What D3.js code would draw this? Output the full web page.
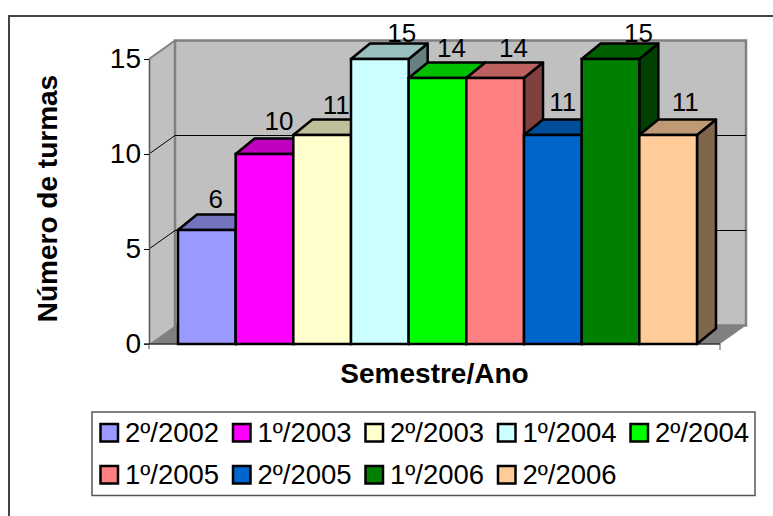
<!DOCTYPE html>
<html>
<head>
<meta charset="utf-8">
<script src="https://cdn.jsdelivr.net/npm/d3@7"></script>
<style>
  html, body { margin: 0; padding: 0; background: #fff; }
  text { font-family: "Liberation Sans", Arial, sans-serif; fill: #000; }
</style>
</head>
<body>
<script>
const semesters = ["2º/2002", "1º/2003", "2º/2003", "1º/2004", "2º/2004", "1º/2005", "2º/2005", "1º/2006", "2º/2006"];
const turmas = [6, 10, 11, 15, 14, 14, 11, 15, 11];
const yTicks = [0, 5, 10, 15];
const barColors = ["#9999ff", "#ff00ff", "#ffffcc", "#ccffff", "#00ff00", "#ff8080", "#0066cc", "#008000", "#ffcc99"];

const w = 773;
const h = 516;

// wall depth and bar depth of the fake 3d box
const wallDx = 26, wallDy = -18.5;
const barDx = 19, barDy = -15.5;

// the labels are not placed evenly over the bars, small shift per bar
const labelShiftX = [-10, -4.5, -5, 3, -5, -0.6, -9, 9, -2];
const labelShiftY = [-1, -3, 0, 4, 0, 0, -3, 4, -3];

const svg = d3.select("body").append("svg")
    .attr("width", w)
    .attr("height", h)
    .style("display", "block");

// outer frame, only top and left are inside the picture
svg.append("polyline")
    .attr("points", "9,516 9,16 773,16")
    .attr("fill", "none")
    .attr("stroke", "#444")
    .attr("stroke-width", 2);

const yScale = d3.scaleLinear().domain([0, 15]).range([344, 59]);
const xScale = d3.scaleBand().domain(semesters).range([178, 697]);
const frontLeft = 149, frontRight = 720;

const pts = (a) => a.map((p) => p.join(",")).join(" ");
const scaled = (c, k) => {
    const r = d3.rgb(c);
    return d3.rgb(r.r * k, r.g * k, r.b * k).formatHex();
};

// walls and floor
const wall = svg.append("g");
wall.append("polygon")
    .attr("points", pts([[frontLeft, yScale(0)], [frontLeft, yScale(15)], [frontLeft + wallDx, yScale(15) + wallDy], [frontLeft + wallDx, yScale(0) + wallDy]]))
    .attr("fill", "#c0c0c0");
wall.append("rect")
    .attr("x", frontLeft + wallDx).attr("y", yScale(15) + wallDy)
    .attr("width", frontRight - frontLeft).attr("height", yScale(0) - yScale(15))
    .attr("fill", "#c0c0c0")
    .attr("stroke", "#808080").attr("stroke-width", 2.5);
wall.append("polygon")
    .attr("points", pts([[frontLeft, yScale(0)], [frontRight, yScale(0)], [frontRight + wallDx, yScale(0) + wallDy], [frontLeft + wallDx, yScale(0) + wallDy]]))
    .attr("fill", "#808080");
wall.append("line")
    .attr("x1", frontLeft).attr("y1", yScale(15))
    .attr("x2", frontLeft + wallDx).attr("y2", yScale(15) + wallDy)
    .attr("stroke", "#808080").attr("stroke-width", 2);

// gridlines
yTicks.filter((t) => t > 0 && t < 15).forEach((t) => {
    svg.append("polyline")
        .attr("points", pts([[frontLeft, yScale(t)], [frontLeft + wallDx, yScale(t) + wallDy], [frontRight + wallDx, yScale(t) + wallDy]]))
        .attr("fill", "none")
        .attr("stroke", "#000")
        .attr("stroke-width", 1);
});

// axes
const yAxis = d3.axisLeft(yScale).tickValues(yTicks).tickSize(5).tickSizeOuter(0).tickPadding(3);
const yG = svg.append("g").attr("transform", "translate(" + frontLeft + ",0)").call(yAxis);
yG.selectAll("text").style("font-size", "28px").style("font-family", "Liberation Sans");
yG.select(".domain").attr("stroke", "#555").attr("stroke-width", 1.5);
svg.append("line")
    .attr("x1", frontLeft - 5).attr("x2", frontRight)
    .attr("y1", yScale(0)).attr("y2", yScale(0))
    .attr("stroke", "#333").attr("stroke-width", 1.5);
svg.append("line")
    .attr("x1", frontLeft).attr("x2", frontLeft)
    .attr("y1", yScale(0)).attr("y2", yScale(0) + 5)
    .attr("stroke", "#555");
svg.append("line")
    .attr("x1", frontRight).attr("x2", frontRight)
    .attr("y1", yScale(0)).attr("y2", yScale(0) + 6)
    .attr("stroke", "#555");

// bars, drawn left to right so each covers the side of the previous one
const bars = svg.selectAll("g.bar")
    .data(semesters)
    .enter()
    .append("g")
    .attr("class", "bar");

const bw = xScale.bandwidth();

bars.append("polygon") // side
    .attr("points", (d, i) => {
        const x = xScale(d) + bw, y = yScale(turmas[i]);
        return pts([[x, yScale(0)], [x, y], [x + barDx, y + barDy], [x + barDx, yScale(0) + barDy]]);
    })
    .attr("fill", (d, i) => scaled(barColors[i], 0.5))
    .attr("stroke", "#000").attr("stroke-width", 2.5).attr("stroke-linejoin", "round");

bars.append("polygon") // top
    .attr("points", (d, i) => {
        const x = xScale(d), y = yScale(turmas[i]);
        return pts([[x, y], [x + bw, y], [x + bw + barDx, y + barDy], [x + barDx, y + barDy]]);
    })
    .attr("fill", (d, i) => scaled(barColors[i], 0.75))
    .attr("stroke", "#000").attr("stroke-width", 2.5).attr("stroke-linejoin", "round");

bars.append("rect") // front
    .attr("x", (d) => xScale(d))
    .attr("y", (d, i) => yScale(turmas[i]))
    .attr("width", bw)
    .attr("height", (d, i) => yScale(0) - yScale(turmas[i]))
    .attr("fill", (d, i) => barColors[i])
    .attr("stroke", "#000").attr("stroke-width", 2.5);

// value labels
svg.selectAll("text.val")
    .data(turmas)
    .enter()
    .append("text")
    .attr("class", "val")
    .attr("x", (d, i) => xScale(semesters[i]) + bw / 2 + barDx + labelShiftX[i])
    .attr("y", (d, i) => yScale(d) + barDy - 6 + labelShiftY[i])
    .attr("text-anchor", "middle")
    .style("font-size", "26px")
    .text((d) => d);

// axis titles
svg.append("text")
    .attr("x", 434.5).attr("y", 383)
    .attr("text-anchor", "middle")
    .style("font-size", "28px").style("font-weight", "bold")
    .text("Semestre/Ano");
svg.append("text")
    .attr("transform", "translate(57,198.5) rotate(-90)")
    .attr("text-anchor", "middle")
    .style("font-size", "28px").style("font-weight", "bold")
    .text("Número de turmas");

// legend
svg.append("rect")
    .attr("x", 92).attr("y", 412)
    .attr("width", 663).attr("height", 83.5)
    .attr("fill", "#fff")
    .attr("stroke", "#555").attr("stroke-width", 1.5);

const legendX = d3.scalePoint().domain(d3.range(5)).range([100.5, 630.5]);
const legendY = d3.scalePoint().domain(d3.range(2)).range([424, 466]);
const legend = svg.selectAll("g.leg")
    .data(semesters)
    .enter()
    .append("g")
    .attr("class", "leg")
    .attr("transform", (d, i) => "translate(" + legendX(i % 5) + "," + legendY(Math.floor(i / 5)) + ")");
legend.append("rect")
    .attr("width", 17.5).attr("height", 17.5)
    .attr("fill", (d, i) => barColors[i])
    .attr("stroke", "#000").attr("stroke-width", 2.5);
legend.append("text")
    .attr("x", 24.5).attr("y", 18)
    .style("font-size", "27.5px")
    .text((d) => d);
</script>
</body>
</html>
